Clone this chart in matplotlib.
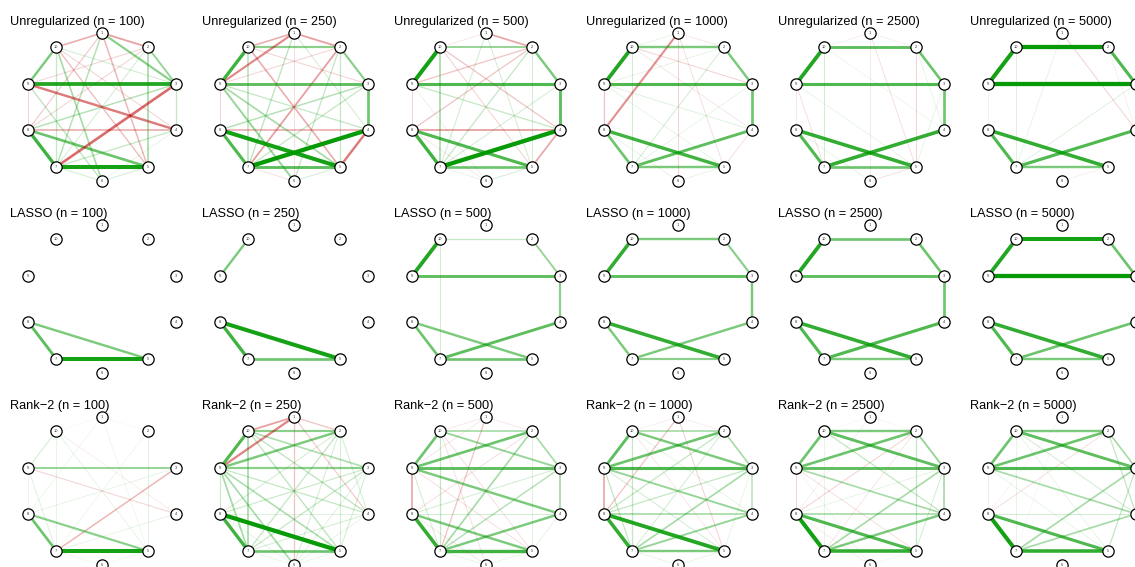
import numpy as np
import matplotlib
matplotlib.use("Agg")
import matplotlib.pyplot as plt

plt.rcParams['font.family'] = ['Liberation Sans', 'DejaVu Sans']

sample_sizes = [100, 250, 500, 1000, 2500, 5000]
methods = ["Unregularized", "LASSO", "Rank\u22122"]
node_labels = [str(k) for k in range(1, 11)]

# edges: (node a, node b, weight)
unreg_100 = [(9, 3, .75), (7, 5, .8), (8, 7, .65), (8, 5, .5), (10, 9, .45), (1, 3, .4),
             (2, 3, .35), (2, 5, .3), (9, 4, -.45), (7, 3, -.5), (1, 2, -.32), (10, 1, -.28),
             (1, 5, -.25), (1, 7, .25), (1, 8, -.18), (10, 6, .3), (10, 5, -.22), (3, 8, .25),
             (4, 7, .2), (4, 8, -.28), (3, 4, .2), (9, 8, -.15), (10, 3, .15), (10, 4, -.15),
             (9, 2, -.15), (2, 8, -.15), (6, 5, .15), (7, 6, .15), (9, 6, .22), (10, 7, .2),
             (4, 6, .1), (2, 7, .15)]
unreg_250 = [(10, 9, .65), (9, 3, .55), (3, 4, .5), (2, 3, .4), (10, 2, .4), (8, 7, .6),
             (8, 5, .8), (7, 4, .85), (7, 5, .55), (4, 5, -.45), (1, 9, -.4), (1, 2, -.32),
             (10, 1, -.28), (7, 2, -.32), (9, 6, .35), (9, 5, .3), (10, 7, .25), (1, 7, .22),
             (10, 5, -.28), (9, 4, .2), (3, 8, .25), (4, 8, -.28), (3, 7, .2), (2, 6, .2),
             (1, 4, .15), (9, 8, -.15), (6, 5, .15), (7, 6, -.12), (2, 9, -.15), (10, 3, -.15),
             (2, 5, .2), (1, 6, -.12)]
unreg_500 = [(10, 9, .8), (9, 3, .6), (3, 4, .55), (2, 3, .45), (10, 2, .35), (8, 7, .65),
             (8, 5, .6), (7, 4, .85), (7, 5, .5), (1, 2, -.3), (4, 5, -.3), (4, 8, -.32),
             (10, 7, .3), (9, 2, -.2), (8, 2, -.2), (10, 4, -.2), (9, 4, .2), (2, 7, .2),
             (1, 7, .15), (1, 5, .15), (3, 7, .15), (10, 5, -.15), (9, 8, -.15), (6, 5, .15),
             (7, 6, .1), (9, 6, .1), (1, 10, -.1), (8, 6, -.1), (2, 5, .15)]
unreg_1000 = [(10, 9, .75), (9, 3, .6), (10, 2, .45), (2, 3, .45), (3, 4, .5), (8, 5, .65),
              (7, 4, .55), (8, 7, .5), (7, 5, .45), (1, 8, -.38), (1, 6, -.15), (9, 8, -.2),
              (10, 3, -.15), (10, 4, -.1), (1, 2, -.1), (1, 10, .1), (2, 7, .15), (9, 4, .12),
              (10, 7, .15), (1, 5, -.12), (4, 5, -.12), (3, 7, .1), (9, 5, .1), (2, 9, .1),
              (6, 5, .1), (8, 6, .1)]
unreg_2500 = [(10, 9, .75), (10, 2, .55), (9, 3, .6), (2, 3, .5), (3, 4, .5), (8, 7, .6),
              (8, 5, .7), (7, 4, .7), (7, 5, .5), (10, 7, .15), (2, 5, -.15), (1, 5, -.12),
              (1, 6, -.1), (6, 5, -.12), (9, 8, -.1), (9, 7, -.12), (2, 4, .1), (3, 5, .1),
              (9, 5, .1), (8, 6, .1), (10, 4, .08), (1, 10, -.08), (1, 2, -.08)]
unreg_5000 = [(10, 2, .85), (10, 9, .8), (9, 3, .85), (2, 3, .6), (3, 4, .55), (8, 7, .6),
              (8, 5, .7), (7, 4, .6), (7, 5, .45), (1, 4, -.15), (10, 7, .12), (7, 3, .12),
              (1, 7, .1), (9, 8, -.08), (6, 5, -.08), (2, 4, -.08)]

lasso_100 = [(7, 5, .8), (8, 7, .55), (8, 5, .45)]
lasso_250 = [(10, 9, .45), (8, 5, .8), (8, 7, .65), (7, 5, .5)]
lasso_500 = [(10, 9, .75), (9, 3, .55), (2, 3, .35), (10, 2, .2), (3, 4, .4), (10, 7, .15),
             (8, 7, .5), (8, 5, .45), (7, 4, .55), (7, 5, .5)]
lasso_1000 = [(10, 9, .7), (10, 2, .45), (2, 3, .4), (9, 3, .55), (3, 4, .45), (8, 5, .7),
              (8, 7, .45), (7, 4, .45), (7, 5, .4)]
lasso_2500 = [(10, 9, .75), (10, 2, .5), (2, 3, .5), (9, 3, .55), (3, 4, .5), (8, 5, .7),
              (8, 7, .6), (7, 4, .6), (7, 5, .45)]
lasso_5000 = [(10, 2, .8), (10, 9, .75), (9, 3, .85), (2, 3, .5), (3, 4, .5), (8, 5, .7),
              (8, 7, .6), (7, 4, .5), (7, 5, .45)]

rank_100 = [(7, 5, .8), (8, 7, .5), (8, 5, .4), (9, 3, .35), (7, 3, -.25), (9, 4, -.15),
            (10, 9, .15), (2, 5, .12), (9, 7, .12), (10, 7, .1), (1, 8, .08), (3, 8, .1),
            (4, 7, .1), (10, 5, .1), (1, 5, .08), (9, 8, -.08), (10, 4, -.08), (2, 7, .08),
            (6, 5, .08), (7, 6, .08), (1, 10, .05), (1, 2, .05)]
rank_250 = [(10, 9, .6), (9, 2, .45), (10, 2, .4), (9, 3, .4), (1, 9, -.42), (1, 10, -.32),
            (1, 2, -.2), (1, 6, -.2), (1, 4, -.18), (8, 5, .85), (8, 7, .65), (7, 5, .5),
            (10, 7, .3), (9, 7, .3), (9, 6, .3), (9, 5, .28), (10, 3, .28), (10, 4, .22),
            (10, 5, .22), (9, 4, .2), (9, 8, .18), (2, 7, .2), (3, 7, .2), (2, 6, .15),
            (3, 8, .18), (4, 7, .15), (2, 8, .15), (7, 6, .1), (6, 5, .1), (3, 6, .12),
            (4, 6, .1), (8, 6, .1), (2, 5, .15), (3, 5, .15), (2, 4, .15), (4, 8, .12)]
rank_500 = [(10, 9, .5), (9, 2, .5), (9, 3, .55), (10, 3, .35), (10, 2, .3), (9, 4, .45),
            (8, 7, .7), (8, 5, .45), (7, 5, .65), (7, 4, .45), (7, 2, .3), (7, 3, .25),
            (2, 3, .3), (3, 4, .3), (9, 8, -.3), (10, 7, .2), (1, 7, -.2), (10, 6, -.12),
            (8, 3, .15), (8, 4, .15), (9, 7, .15), (9, 5, -.12), (1, 10, -.1), (1, 2, -.1),
            (2, 8, -.12), (10, 5, -.12), (8, 6, -.1), (6, 5, .1), (7, 6, .1), (4, 5, .1),
            (2, 5, .12), (1, 9, -.1)]
rank_1000 = [(10, 9, .55), (9, 2, .5), (9, 3, .6), (10, 3, .45), (10, 2, .3), (2, 3, .3),
             (3, 4, .25), (9, 4, .35), (8, 5, .75), (8, 7, .7), (7, 5, .45), (7, 4, .35),
             (8, 4, .3), (7, 3, .3), (9, 8, -.3), (1, 8, -.2), (1, 5, -.15), (2, 8, .2),
             (10, 7, .2), (8, 3, .2), (9, 7, .2), (2, 7, .15), (9, 5, .15), (10, 5, -.1),
             (6, 5, .1), (7, 6, .1), (10, 1, -.08), (1, 2, -.08), (10, 4, .1), (3, 5, .1)]
rank_2500 = [(10, 9, .5), (10, 2, .45), (10, 3, .55), (9, 2, .5), (9, 3, .55), (2, 3, .35),
             (3, 4, .3), (9, 4, .3), (8, 4, .3), (8, 5, .6), (8, 7, .8), (7, 5, .7),
             (7, 4, .45), (7, 3, .3), (10, 4, .2), (2, 5, .2), (3, 5, .15), (10, 7, .1),
             (8, 2, -.15), (9, 8, -.15), (8, 3, .1), (9, 5, -.12), (7, 2, -.1), (1, 8, -.08),
             (1, 10, -.05), (1, 2, -.05), (6, 5, .08), (9, 6, .08), (8, 6, -.08)]
rank_5000 = [(10, 9, .5), (10, 2, .45), (10, 3, .55), (9, 2, .5), (9, 3, .6), (2, 3, .3),
             (3, 4, .3), (2, 4, .2), (9, 4, .3), (8, 4, .15), (8, 5, .6), (8, 7, .8),
             (7, 5, .7), (7, 4, .3), (7, 3, .3), (3, 5, .2), (10, 4, .15), (10, 7, .1),
             (9, 8, -.1), (2, 8, -.12), (9, 5, .1), (10, 5, .1), (1, 8, -.06), (1, 7, -.05)]

panels = [[unreg_100, unreg_250, unreg_500, unreg_1000, unreg_2500, unreg_5000],
          [lasso_100, lasso_250, lasso_500, lasso_1000, lasso_2500, lasso_5000],
          [rank_100, rank_250, rank_500, rank_1000, rank_2500, rank_5000]]

POS_COL = '#009900'
NEG_COL = '#BF0000'

# circle layout, rescaled to fill the box like qgraph does
theta = 2 * np.pi * np.arange(10) / 10
lay_x = np.sin(theta) / np.sin(np.radians(72))
lay_y = np.cos(theta)

W, H = 1135, 567
fig = plt.figure(figsize=(W / 100, H / 100), dpi=100)

R = 74.0      # pixel radius of the node circle
half = 95.0   # half size of each panel in pixels
lim = half / R

for r, method in enumerate(methods):
    for c, n in enumerate(sample_sizes):
        cx, cy = 102 + 192 * c, 107 + 192 * r
        ax = fig.add_axes([(cx - half) / W, 1 - (cy + half) / H, 2 * half / W, 2 * half / H])
        ax.set_xlim(-lim, lim)
        ax.set_ylim(-lim, lim)
        ax.axis('off')

        edges = sorted(panels[r][c], key=lambda e: abs(e[2]))
        for a, b, w in edges:
            col = POS_COL if w > 0 else NEG_COL
            alpha = min(1.0, 1.15 * abs(w))
            lw = (0.35 + 4.6 * abs(w)) * 0.72
            ax.plot([lay_x[a - 1], lay_x[b - 1]], [lay_y[a - 1], lay_y[b - 1]],
                    color=col, alpha=alpha, lw=lw, solid_capstyle='butt', zorder=2)

        ax.scatter(lay_x, lay_y, s=66, facecolor='white', edgecolor='black',
                   linewidth=0.9, zorder=3)
        for k, lab in enumerate(node_labels):
            ax.text(lay_x[k], lay_y[k], lab, fontsize=2.8, ha='center', va='center',
                    color='#333333', zorder=4)

        ax.text((10 + 192 * c - (cx - half)) / (2 * half), 1 - (25 + 192 * r - (cy - half)) / (2 * half),
                f"{method} (n = {n})", transform=ax.transAxes, fontsize=9.2,
                ha='left', va='baseline', clip_on=False)

fig.savefig('out.png', dpi=100)
